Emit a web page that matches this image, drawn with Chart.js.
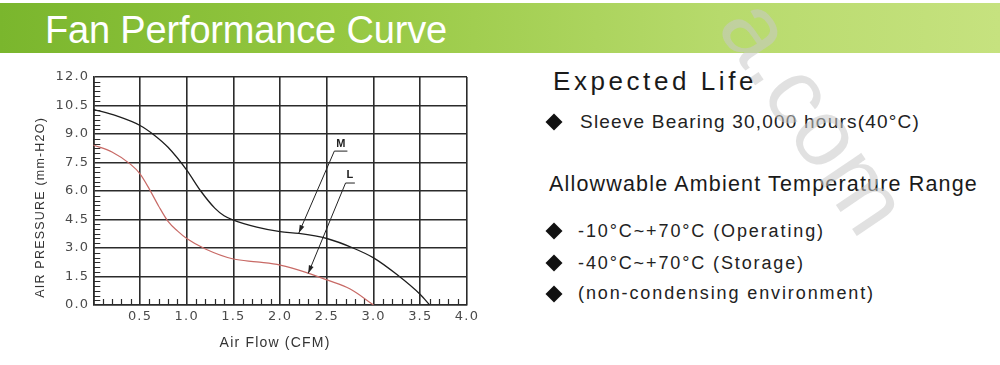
<!DOCTYPE html>
<html><head><meta charset="utf-8">
<script src="https://cdn.jsdelivr.net/npm/chart.js@4.4.1/dist/chart.umd.min.js"></script>
<style>
html,body{margin:0;padding:0;background:#fff;}
#wrap{position:relative;width:1000px;height:365px;overflow:hidden;background:#fff;}
#banner{position:absolute;left:0;top:3px;width:1000px;height:50px;background:linear-gradient(to right,#7ab62d 0%,#96c842 35%,#b7da6c 72%,#c6e27f 100%);}
#title{position:absolute;left:45px;top:11px;font-family:"Liberation Sans Narrow","Arial Narrow",sans-serif;font-size:38px;line-height:38px;color:#fff;white-space:nowrap;}
.t{position:absolute;white-space:nowrap;font-family:"Liberation Sans",Arial,sans-serif;color:#1a1a1a;}
.d{position:absolute;width:12px;height:12px;background:#111;transform:rotate(45deg);}
#wm{position:absolute;left:782px;top:-18px;font-family:"Liberation Sans",Arial,sans-serif;font-size:95px;line-height:95px;color:rgba(200,200,200,0.55);transform-origin:0 0;transform:rotate(56deg);white-space:nowrap;z-index:5;}
canvas{position:absolute;left:0;top:0;}
</style>
</head><body>
<div id="wrap">
  <div id="banner"></div>
  <div id="title" data-w="402">Fan Performance Curve</div>
  <canvas id="c" width="500" height="365"></canvas>
  <div class="t" style="left:553px;top:68px;font-size:26px;line-height:26px;" data-w="204">Expected Life</div>
  <div class="d" style="left:548px;top:116px;"></div>
  <div class="t" style="left:580px;top:112px;font-size:19px;line-height:19px;color:#222;" data-w="340">Sleeve Bearing 30,000 hours(40°C)</div>
  <div class="t" style="left:549px;top:174px;font-size:21.5px;line-height:21.5px;" data-w="429">Allowwable Ambient Temperature Range</div>
  <div class="d" style="left:548px;top:225px;"></div>
  <div class="t" style="left:578px;top:222px;font-size:18px;line-height:18px;color:#222;" data-w="247">-10°C~+70°C (Operating)</div>
  <div class="d" style="left:548px;top:257px;"></div>
  <div class="t" style="left:578px;top:254px;font-size:18px;line-height:18px;color:#222;" data-w="227">-40°C~+70°C (Storage)</div>
  <div class="d" style="left:548px;top:288px;"></div>
  <div class="t" style="left:578px;top:284px;font-size:18px;line-height:18px;color:#222;" data-w="297">(non-condensing environment)</div>
  <div id="wm">a.com</div>
</div>
<script>
// ---- data ----
const flowM     = [0, 0.25, 0.5, 0.65, 0.8, 1.0, 1.15, 1.3, 1.4, 1.5, 1.75, 2.0, 2.2, 2.5, 2.78, 3.0, 3.25, 3.5, 3.6];
const pressureM = [10.3, 9.95, 9.45, 8.95, 8.3, 7.1, 6.0, 5.1, 4.7, 4.47, 4.1, 3.86, 3.77, 3.5, 3.0, 2.48, 1.6, 0.55, 0];
const flowL     = [0, 0.2, 0.4, 0.5, 0.6, 0.7, 0.8, 0.9, 1.0, 1.2, 1.5, 1.75, 2.0, 2.3, 2.5, 2.75, 3.0];
const pressureL = [8.42, 8.05, 7.4, 6.9, 6.1, 5.2, 4.4, 3.9, 3.5, 2.95, 2.42, 2.27, 2.1, 1.68, 1.32, 0.84, 0];
const xTickLabels = ['', '0.5', '1.0', '1.5', '2.0', '2.5', '3.0', '3.5', '4.0'];
const yTickLabels = ['0.0', '1.5', '3.0', '4.5', '6.0', '7.5', '9.0', '10.5', '12.0'];
const annoText  = ['M', 'L'];
const annoTextX = [2.65, 2.745];
const annoTextY = [8.5, 6.82];
const annoLineX1 = [2.58, 2.70];
const annoLineX2 = [2.72, 2.80];
const annoLineY  = [8.1, 6.42];
const annoTipX  = [2.2, 2.3];
const annoTipY  = [3.79, 1.66];

// fit text widths
document.querySelectorAll('[data-w]').forEach(el => {
  const target = parseFloat(el.dataset.w);
  const w = el.getBoundingClientRect().width;
  const n = el.textContent.length;
  el.style.letterSpacing = ((target - w) / n) + 'px';
});

const GRID = '#2b2b2b';
const extras = {
  id: 'extras',
  beforeUpdate(chart) { chart.ctx.letterSpacing = '1.2px'; },
  beforeDatasetsDraw(chart) {
    const {ctx, chartArea: a, scales: {x, y}} = chart;
    ctx.save();
    ctx.strokeStyle = GRID;
    ctx.lineWidth = 1.2;
    ctx.beginPath();
    for (let i = 0; i <= 48; i++) {
      if (i % 6 === 0) continue;
      const py = Math.round(y.getPixelForValue(i * 0.25)) + 0.5;
      ctx.moveTo(a.left, py); ctx.lineTo(a.left + 7, py);
    }
    for (let i = 0; i <= 40; i++) {
      if (i % 5 === 0) continue;
      const px = Math.round(x.getPixelForValue(i * 0.1)) + 0.5;
      ctx.moveTo(px, a.bottom); ctx.lineTo(px, a.bottom - 6);
    }
    ctx.stroke();
    ctx.restore();
  },
  afterDatasetsDraw(chart) {
    const {ctx, scales: {x, y}} = chart;
    ctx.save();
    ctx.strokeStyle = '#222'; ctx.fillStyle = '#222'; ctx.lineWidth = 1;
    ctx.letterSpacing = '0px';
    ctx.font = 'bold 11px "Liberation Sans", Arial, sans-serif';
    ctx.textAlign = 'center'; ctx.textBaseline = 'middle';
    for (let i = 0; i < annoText.length; i++) {
      ctx.fillText(annoText[i], x.getPixelForValue(annoTextX[i]), y.getPixelForValue(annoTextY[i]));
      const x1 = x.getPixelForValue(annoLineX1[i]), x2 = x.getPixelForValue(annoLineX2[i]);
      const yl = y.getPixelForValue(annoLineY[i]);
      const tx = x.getPixelForValue(annoTipX[i]), ty = y.getPixelForValue(annoTipY[i]);
      ctx.beginPath();
      ctx.moveTo(x2, yl); ctx.lineTo(x1, yl); ctx.lineTo(tx, ty);
      ctx.stroke();
      const ang = Math.atan2(ty - yl, tx - x1);
      const L = 8, W = 2.5;
      ctx.beginPath();
      ctx.moveTo(tx, ty);
      ctx.lineTo(tx - L * Math.cos(ang) + W * Math.sin(ang), ty - L * Math.sin(ang) - W * Math.cos(ang));
      ctx.lineTo(tx - L * Math.cos(ang) - W * Math.sin(ang), ty - L * Math.sin(ang) + W * Math.cos(ang));
      ctx.closePath(); ctx.fill();
    }
    ctx.restore();
  }
};

new Chart(document.getElementById('c'), {
  type: 'line',
  data: {
    datasets: [
      { label: 'M', data: flowM.map((v, i) => ({x: v, y: pressureM[i]})), borderColor: '#1e1e1e', borderWidth: 1.3, pointRadius: 0, cubicInterpolationMode: 'monotone', fill: false },
      { label: 'L', data: flowL.map((v, i) => ({x: v, y: pressureL[i]})), borderColor: '#c86a66', borderWidth: 1.2, pointRadius: 0, cubicInterpolationMode: 'monotone', fill: false }
    ]
  },
  options: {
    responsive: false, animation: false, devicePixelRatio: 1,
    layout: { padding: { left: 0, top: 77, right: 33, bottom: 0 } },
    plugins: { legend: { display: false }, tooltip: { enabled: false } },
    scales: {
      x: {
        type: 'linear', min: 0, max: 4,
        afterFit(s) { s.height = 60; },
        ticks: { stepSize: 0.5, padding: 4, color: '#4a4a4a', font: { family: '"DejaVu Sans", sans-serif', size: 13 }, maxRotation: 0,
                 callback: (v, i) => xTickLabels[i] },
        grid: { color: GRID, lineWidth: 1.6, drawTicks: false },
        border: { color: GRID, width: 1.6 },
        title: { display: true, text: 'Air Flow (CFM)  ', color: '#333', font: { family: '"Liberation Sans", Arial, sans-serif', size: 14 }, padding: { top: 0, bottom: 13 } }
      },
      y: {
        type: 'linear', min: 0, max: 12,
        afterFit(s) { s.width = 93.3; },
        ticks: { stepSize: 1.5, padding: 4, color: '#4a4a4a', font: { family: '"DejaVu Sans", sans-serif', size: 13 },
                 callback: (v, i) => yTickLabels[i] },
        grid: { color: GRID, lineWidth: 1.6, drawTicks: false },
        border: { color: GRID, width: 1.6 },
        title: { display: true, text: 'AIR PRESSURE (mm-H2O)       ', color: '#333', font: { family: '"Liberation Sans", Arial, sans-serif', size: 12.5 }, padding: { top: 33, bottom: 0 } }
      }
    }
  },
  plugins: [extras]
});
</script>
</body></html>
